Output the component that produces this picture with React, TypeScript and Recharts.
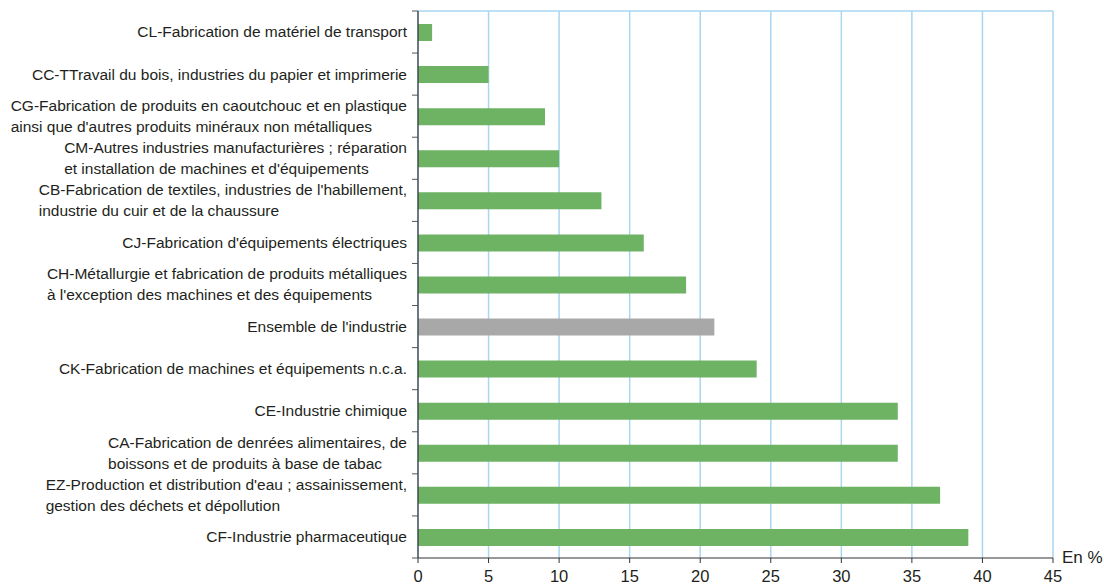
import React from 'react';
import {
    BarChart,
    Bar,
    XAxis,
    YAxis,
    CartesianGrid,
    Cell,
} from 'recharts';

const categories = [
    'CL-Fabrication de matériel de transport',
    'CC-TTravail du bois, industries du papier et imprimerie',
    "CG-Fabrication de produits en caoutchouc et en plastique\nainsi que d'autres produits minéraux non métalliques",
    "CM-Autres industries manufacturières ; réparation\net installation de machines et d'équipements",
    "CB-Fabrication de textiles, industries de l'habillement,\nindustrie du cuir et de la chaussure",
    "CJ-Fabrication d'équipements électriques",
    "CH-Métallurgie et fabrication de produits métalliques\nà l'exception des machines et des équipements",
    "Ensemble de l'industrie",
    'CK-Fabrication de machines et équipements n.c.a.',
    'CE-Industrie chimique',
    'CA-Fabrication de denrées alimentaires, de\nboissons et de produits à base de tabac',
    "EZ-Production et distribution d'eau ; assainissement,\ngestion des déchets et dépollution",
    'CF-Industrie pharmaceutique',
];

const values = [1, 5, 9, 10, 13, 16, 19, 21, 24, 34, 34, 37, 39];

const xTicks = [0, 5, 10, 15, 20, 25, 30, 35, 40, 45];

const TOTAL_LABEL = "Ensemble de l'industrie";

const WIDTH = 1104;
const HEIGHT = 588;
const PLOT_TOP = 11;
const PLOT_BOTTOM = 558;
const BAND = (PLOT_BOTTOM - PLOT_TOP) / categories.length;

const LABEL_FONT = '"Liberation Sans", Arial, Helvetica, sans-serif';
const LABEL_SIZE = 15.5;
const LINE_HEIGHT = 21;

const chartData = categories.map((label, i) => ({
    label,
    value: values[i],
}));

let measureCtx: CanvasRenderingContext2D | null = null;
function textWidth(s: string) {
    if (!measureCtx) {
        measureCtx = document.createElement('canvas').getContext('2d');
    }
    if (!measureCtx) return s.length * LABEL_SIZE * 0.5;
    measureCtx.font = `${LABEL_SIZE}px ${LABEL_FONT}`;
    return measureCtx.measureText(s).width;
}

// label block is right aligned on the axis, lines inside it are left aligned
function CategoryTick(props: any) {
    const { x, y, payload, index } = props;
    const lines = String(payload.value).split('\n');
    const maxW = Math.max(...lines.map(textWidth));
    const startX = x - 11 - maxW;
    const firstBaseline = y - ((lines.length - 1) * LINE_HEIGHT) / 2 + LABEL_SIZE * 0.35;
    const isLast = index === categories.length - 1;

    return (
        <g>
            <line
                x1={x - 6}
                x2={x}
                y1={y - BAND / 2}
                y2={y - BAND / 2}
                stroke="#555"
                strokeWidth={1}
            />
            {isLast && (
                <line
                    x1={x - 6}
                    x2={x}
                    y1={y + BAND / 2}
                    y2={y + BAND / 2}
                    stroke="#555"
                    strokeWidth={1}
                />
            )}
            <text
                x={startX}
                y={firstBaseline}
                textAnchor="start"
                fill="#231f20"
                style={{
                    fontFamily: LABEL_FONT,
                    fontSize: LABEL_SIZE,
                }}
            >
                {lines.map((line, i) => (
                    <tspan
                        key={i}
                        x={startX}
                        dy={i === 0 ? 0 : LINE_HEIGHT}
                    >
                        {line}
                    </tspan>
                ))}
            </text>
        </g>
    );
}

export default function App() {
    return (
        <div
            style={{
                position: 'absolute',
                left: 0,
                top: 0,
                width: WIDTH,
                height: HEIGHT,
                background: '#fff',
                fontFamily: LABEL_FONT,
            }}
        >
            <BarChart
                width={WIDTH}
                height={HEIGHT}
                data={chartData}
                layout="vertical"
                margin={{
                    top: PLOT_TOP,
                    right: 51,
                    left: 0,
                    bottom: 0,
                }}
            >
                <CartesianGrid
                    stroke="#a9d6f0"
                    strokeWidth={1.5}
                    horizontalCoordinatesGenerator={(p: any) => [p.offset.top]}
                />

                <XAxis
                    type="number"
                    domain={[0, 45]}
                    ticks={xTicks}
                    interval={0}
                    height={HEIGHT - PLOT_BOTTOM}
                    tickSize={5}
                    tickMargin={7}
                    axisLine={{ stroke: '#333', strokeWidth: 1.2 }}
                    tickLine={{ stroke: '#333' }}
                    tick={{
                        fill: '#231f20',
                        fontSize: 16.5,
                        fontFamily: LABEL_FONT,
                    }}
                />

                <YAxis
                    type="category"
                    dataKey="label"
                    width={418}
                    interval={0}
                    tickLine={false}
                    tickSize={0}
                    tickMargin={0}
                    axisLine={{ stroke: '#333', strokeWidth: 1.2 }}
                    tick={<CategoryTick />}
                />

                <Bar
                    dataKey="value"
                    barSize={17}
                    isAnimationActive={false}
                >
                    {chartData.map((item) => (
                        <Cell
                            key={item.label}
                            fill={item.label === TOTAL_LABEL ? '#a9a8a8' : '#6db363'}
                        />
                    ))}
                </Bar>
            </BarChart>

            <div
                style={{
                    position: 'absolute',
                    left: 1062,
                    top: 548,
                    fontSize: 17,
                    color: '#231f20',
                    whiteSpace: 'nowrap',
                }}
            >
                En %
            </div>
        </div>
    );
}
